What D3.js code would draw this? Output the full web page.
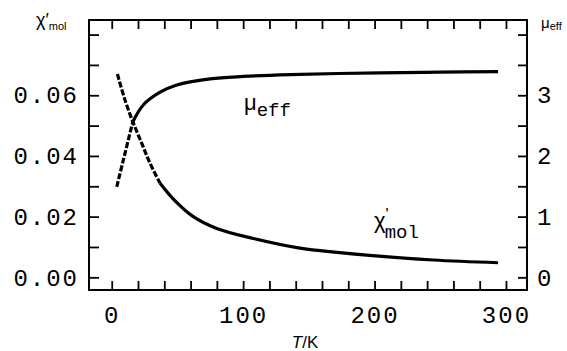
<!DOCTYPE html>
<html>
<head>
<meta charset="utf-8">
<script src="https://cdn.jsdelivr.net/npm/d3@7"></script>
<style>
  body { margin: 0; background: #fff; }
  svg { display: block; }
</style>
</head>
<body>
<script>
// data
const chiT   = [4.3, 10.1, 16, 22.8, 29.1, 36.8, 46.9, 62.1, 79.9, 107.7, 143.3, 158.5, 194, 244.7, 294];
const chiVal = [0.0670, 0.0584, 0.0513, 0.0442, 0.0376, 0.0310, 0.0258, 0.0200, 0.0161, 0.0128, 0.0096, 0.0088, 0.0073, 0.0057, 0.0048];
const muT    = [3.8, 8.8, 16, 24, 36.8, 49.5, 74.8, 100, 135.7, 204, 250, 294];
const muVal  = [1.49, 1.93, 2.56, 2.84, 3.05, 3.17, 3.27, 3.31, 3.34, 3.37, 3.38, 3.39];

const xTicks = [0, 20, 40, 60, 80, 100, 120, 140, 160, 180, 200, 220, 240, 260, 280, 300];
const xLabels = [0, 100, 200, 300];
const chiTicks = [0, 0.01, 0.02, 0.03, 0.04, 0.05, 0.06, 0.07, 0.08];
const chiLabels = [0, 0.02, 0.04, 0.06];
const muTicks = [0, 0.5, 1, 1.5, 2, 2.5, 3, 3.5, 4];
const muLabels = [0, 1, 2, 3];

const w = 567, h = 351;
const padL = 89, padR = 527, padT = 20, padB = 290;

const svg = d3.select("body").append("svg")
  .attr("width", w)
  .attr("height", h);

const x = d3.scaleLinear().domain([-17.3, 316]).range([padL, padR]);
const yChi = d3.scaleLinear().domain([-0.00418, 0.0848]).range([padB, padT]);
const yMu = d3.scaleLinear().domain([-0.209, 4.24]).range([padB, padT]);

const mono = "'Liberation Mono', monospace";
const sans = "'Liberation Sans', Arial, sans-serif";

// axes (inward ticks)
function styleAxis(g) {
  g.select(".domain").remove();
  g.selectAll(".tick line").attr("stroke", "#000").attr("stroke-width", 1.8);
  g.selectAll(".tick text")
    .attr("fill", "#000")
    .style("font-family", mono)
    .style("font-size", "24px")
    .style("letter-spacing", "2px");
}

svg.append("g")
  .attr("transform", `translate(0,${padB})`)
  .call(d3.axisBottom(x).tickValues(xTicks).tickSize(-9).tickPadding(16)
    .tickFormat(d => xLabels.includes(d) ? d : ""))
  .call(styleAxis);

svg.append("g")
  .attr("transform", `translate(0,${padT})`)
  .call(d3.axisTop(x).tickValues(xTicks).tickSize(-9).tickFormat(""))
  .call(styleAxis);

svg.append("g")
  .attr("transform", `translate(${padL},0)`)
  .call(d3.axisLeft(yChi).tickValues(chiTicks).tickSize(-10).tickPadding(10)
    .tickFormat(d => chiLabels.some(v => Math.abs(v - d) < 1e-9) ? d3.format(".2f")(d) : ""))
  .call(styleAxis);

svg.append("g")
  .attr("transform", `translate(${padR},0)`)
  .call(d3.axisRight(yMu).tickValues(muTicks).tickSize(-9).tickPadding(10)
    .tickFormat(d => muLabels.includes(d) ? d : ""))
  .call(styleAxis);

// frame
svg.append("rect")
  .attr("x", padL).attr("y", padT)
  .attr("width", padR - padL).attr("height", padB - padT)
  .attr("fill", "none").attr("stroke", "#000").attr("stroke-width", 2);

// curves: sparse low-T points look dashed
function drawSeries(ts, vals, yScale, cut) {
  const pts = ts.map((t, i) => [t, vals[i]]);
  const line = d3.line().x(d => x(d[0])).y(d => yScale(d[1])).curve(d3.curveCatmullRom.alpha(0.5));
  const low = pts.filter(d => d[0] <= cut);
  const high = pts.filter(d => d[0] >= low[low.length - 1][0]);
  svg.append("path").attr("d", line(low))
    .attr("fill", "none").attr("stroke", "#000").attr("stroke-width", 3.2)
    .attr("stroke-dasharray", "6,2");
  svg.append("path").attr("d", line(high))
    .attr("fill", "none").attr("stroke", "#000").attr("stroke-width", 3.2);
}
drawSeries(chiT, chiVal, yChi, 37);
drawSeries(muT, muVal, yMu, 16);

// axis titles
const tk = svg.append("text")
  .attr("x", 305).attr("y", 348)
  .attr("text-anchor", "middle")
  .style("font-family", sans).style("font-size", "17px");
tk.append("tspan").style("font-style", "italic").text("T");
tk.append("tspan").text("/K");

const chiTitle = svg.append("text")
  .attr("x", 36).attr("y", 26)
  .style("font-family", sans).style("font-size", "18px");
chiTitle.append("tspan").text("χ′");
chiTitle.append("tspan").attr("dy", 4).style("font-size", "11px").text("mol");

const muTitle = svg.append("text")
  .attr("x", 541).attr("y", 28)
  .style("font-family", sans).style("font-size", "15px");
muTitle.append("tspan").text("μ");
muTitle.append("tspan").attr("dy", 2).style("font-size", "11px").text("eff");

// in-plot labels
const muLab = svg.append("text")
  .attr("x", 244).attr("y", 110)
  .style("font-family", sans).style("font-size", "22px");
muLab.append("tspan").text("μ");
muLab.append("tspan").attr("dy", 6).style("font-family", mono).style("font-size", "19px").text("eff");

const chiLab = svg.append("text")
  .attr("x", 374).attr("y", 228)
  .style("font-family", sans).style("font-size", "22px");
chiLab.append("tspan").text("χ");
chiLab.append("tspan").attr("dy", -8).style("font-size", "16px").text("'");
chiLab.append("tspan").attr("dy", 18).attr("dx", -4).style("font-family", mono).style("font-size", "19px").text("mol");
</script>
</body>
</html>
